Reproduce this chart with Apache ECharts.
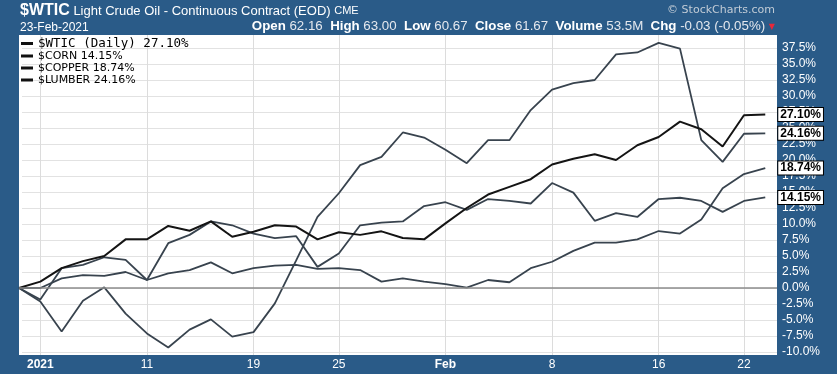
<!DOCTYPE html>
<html><head><meta charset="utf-8">
<script src="https://cdn.jsdelivr.net/npm/echarts@6/dist/echarts.min.js"></script>
<style>html,body{margin:0;padding:0;background:#2a5b88}#c{width:837px;height:374px}</style>
</head><body><div id="c"></div>
<script>
const dates = ['2020-12-31',
  '2021-01-04','2021-01-05','2021-01-06','2021-01-07','2021-01-08',
  '2021-01-11','2021-01-12','2021-01-13','2021-01-14','2021-01-15',
  '2021-01-19','2021-01-20','2021-01-21','2021-01-22',
  '2021-01-25','2021-01-26','2021-01-27','2021-01-28','2021-01-29',
  '2021-02-01','2021-02-02','2021-02-03','2021-02-04','2021-02-05',
  '2021-02-08','2021-02-09','2021-02-10','2021-02-11','2021-02-12',
  '2021-02-16','2021-02-17','2021-02-18','2021-02-19',
  '2021-02-22','2021-02-23'];
const wtic = [0,1.0,3.1,4.2,5.0,7.6, 7.6,9.7,8.95,10.4,8.0, 8.8,9.8,9.6,7.6, 8.7,8.3,8.85,7.8,7.6, 10.1,12.5,14.6,15.8,17.0, 19.3,20.2,20.9,20.0,22.3, 23.6,26.0,24.8,22.1, 27.0,27.1];
const corn = [0,-1.8,3.1,3.6,4.8,4.4, 1.25,7.0,8.3,10.4,9.8, 8.5,7.8,8.1,3.3, 5.4,9.8,10.2,10.4,12.8, 13.4,12.2,13.9,13.6,13.2, 16.4,14.9,10.5,11.7,11.1, 13.9,14.1,13.6,11.9, 13.6,14.15];
const copper = [0,0,1.5,2.0,1.9,2.5, 1.25,2.3,2.8,4.0,2.3, 3.1,3.5,3.6,3.0, 3.1,2.8,1.0,1.5,1.0, 0.6,0.05,1.25,0.9,3.1, 4.1,5.8,7.1,7.1,7.6, 8.9,8.5,10.7,15.6, 17.8,18.74];
const lumber = [0,-2.1,-6.8,-2.0,0.1,-4.0, -7.1,-9.3,-6.5,-4.9,-7.6, -6.9,-2.4,4.3,11.1, 14.8,19.2,20.5,24.3,23.5, 21.6,19.5,23.1,23.1,27.8, 31.0,32.0,32.5,36.5,36.8, 38.3,37.4,23.1,19.7, 24.1,24.16];
const seriesNames = ['$WTIC (Daily)','$CORN','$COPPER','$LUMBER'];
const xTickDates = ['2021-01-04','2021-01-11','2021-01-19','2021-01-25','2021-02-01','2021-02-08','2021-02-16','2021-02-22'];
const xTickLabels = ['2021','11','19','25','Feb','8','16','22'];
const boldTicks = ['2021','Feb'];
const yTicks = [-10,-7.5,-5,-2.5,0,2.5,5,7.5,10,12.5,15,17.5,20,22.5,25,27.5,30,32.5,35,37.5];

const xTickIdx = xTickDates.map(d => dates.indexOf(d));
const allData = [wtic, corn, copper, lumber];
const colors = ['#141414','#38434e','#38434e','#38434e'];
const widths = [2,1.8,1.8,1.8];

const series = seriesNames.map((name, k) => {
  const s = {
    name, type:'line', symbol:'none', animation:false,
    data: allData[k].map((v,i)=>[i,v]),
    color: colors[k],
    lineStyle:{color:colors[k], width:widths[k]},
    emphasis:{disabled:true},
    endLabel:{show:true, distance:13, formatter: p => p.value[1].toFixed(2)+'%',
      backgroundColor:'#fff', borderColor:'#000', borderWidth:1, padding:[1,2,0,2],
      color:'#000', fontWeight:'bold', fontSize:12, fontFamily:'Liberation Sans'}
  };
  if (k === 0) {
    s.markLine = {silent:true, symbol:'none', animation:false, label:{show:false},
      lineStyle:{color:'#8c8c8c', width:1.5, type:'solid'}, data:[{yAxis:0}]};
  }
  return s;
});
series.reverse();

const chart = echarts.init(document.getElementById('c'));
chart.setOption({
  backgroundColor:'#2a5b88',
  animation:false,
  title:[
    {text:'{a|$WTIC} {b|Light Crude Oil - Continuous Contract (EOD)} {c|CME}', left:20, top:3, padding:0,
     textStyle:{fontSize:13, fontWeight:'normal', color:'#fff', fontFamily:'Liberation Sans',
       rich:{a:{fontSize:16,fontWeight:'bold',color:'#fff',fontFamily:'Liberation Sans'},
             b:{fontSize:13,color:'#fff',fontFamily:'Liberation Sans'},
             c:{fontSize:11,color:'#fff',fontFamily:'Liberation Sans'}}}},
    {text:'23-Feb-2021', left:20, top:22, padding:0,
     textStyle:{fontSize:12, fontWeight:'normal', color:'#fff', fontFamily:'Liberation Sans'}},
    {text:'{l|Open} {v|62.16}  {l|High} {v|63.00}  {l|Low} {v|60.67}  {l|Close} {v|61.67}  {l|Volume} {v|53.5M}  {l|Chg} {v|-0.03 (-0.05%)} {t|▼}',
     right:62, top:20, padding:0,
     textStyle:{fontSize:13.3, fontWeight:'normal', color:'#fff', fontFamily:'Liberation Sans',
       rich:{l:{fontSize:13.3,fontWeight:'bold',color:'#fff',fontFamily:'Liberation Sans'},
             v:{fontSize:13.3,color:'#e4e8ee',fontFamily:'Liberation Sans'},
             t:{fontSize:8,color:'#e8283a',fontFamily:'DejaVu Sans'}}}},
    {text:'© StockCharts.com', right:62, top:5, padding:0,
     textStyle:{fontSize:11, fontWeight:'normal', color:'#c2ccd6', fontFamily:'DejaVu Sans'}}
  ],
  legend:{
    left:21, top:37, orient:'vertical', itemGap:0, itemWidth:12, itemHeight:3, icon:'rect', padding:0,
    selectedMode:false,
    itemStyle:{color:'#111'},
    data: seriesNames.map((n,k)=> k===0 ? {name:n, textStyle:{fontFamily:'DejaVu Sans Mono', fontSize:12.5, lineHeight:12}} : {name:n}),
    formatter: name => name + ' ' + allData[seriesNames.indexOf(name)].slice(-1)[0].toFixed(2) + '%',
    textStyle:{color:'#000', fontFamily:'DejaVu Sans', fontSize:11, lineHeight:12}
  },
  grid:{left:19, right:60, top:35, bottom:19, show:true, backgroundColor:'#fff', borderWidth:0, containLabel:false},
  xAxis:{type:'value', min:0, max:35.55,
    axisLine:{show:false},
    axisTick:{show:false, customValues:xTickIdx},
    splitLine:{show:true, lineStyle:{color:'#dcdcdc', width:1}},
    axisLabel:{customValues:xTickIdx, color:'#fff', fontSize:12, fontFamily:'Liberation Sans', margin:4,
      formatter: v => { const l = xTickLabels[xTickIdx.indexOf(Math.round(v))] || ''; return boldTicks.includes(l) ? '{b|'+l+'}' : l; },
      rich:{b:{fontWeight:'bold', fontSize:12, color:'#fff', fontFamily:'Liberation Sans'}}}
  },
  yAxis:{type:'value', position:'right', min:-10.47, max:39.53,
    axisLine:{show:false},
    axisTick:{show:true, length:3, lineStyle:{color:'#fff'}, customValues:yTicks},
    axisLabel:{customValues:yTicks, color:'#fff', fontSize:12, fontFamily:'Liberation Sans', margin:5,
      formatter: v => v.toFixed(1)+'%'},
    splitLine:{show:true, lineStyle:{color:'#e2e2e2', width:1}}
  },
  series
});
</script></body></html>
